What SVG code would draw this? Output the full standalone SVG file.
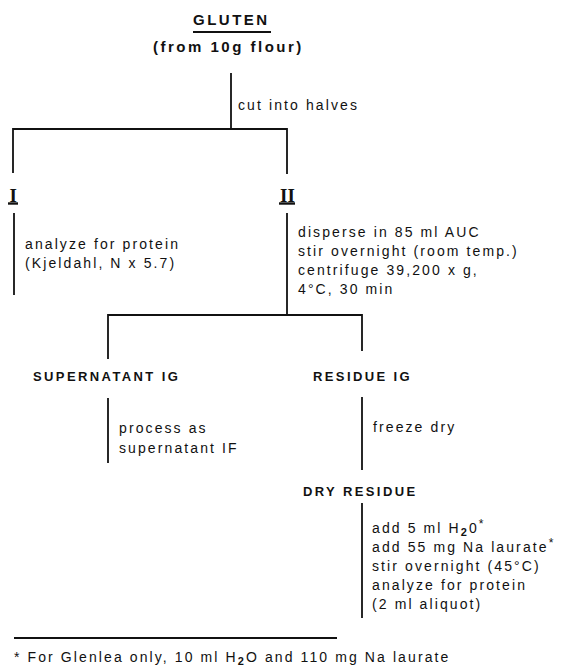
<svg xmlns="http://www.w3.org/2000/svg" width="570" height="668" viewBox="0 0 570 668">
<style>
.t{font-family:"Liberation Sans",Arial,sans-serif;font-size:14px;letter-spacing:2.1px;fill:#111}
.b{font-family:"Liberation Sans",Arial,sans-serif;font-size:13px;font-weight:bold;letter-spacing:2.4px;fill:#111}
.h{font-family:"Liberation Sans",Arial,sans-serif;font-size:15px;font-weight:bold;letter-spacing:2.5px;fill:#111}
.r{font-family:"Liberation Serif","Times New Roman",serif;font-size:19px;font-weight:bold;fill:#111}
.l{stroke:#111;stroke-width:1.8;fill:none}
</style>
<rect width="570" height="668" fill="#fff"/>
<g id="gluten">
<text class="h" x="193" y="25">GLUTEN</text>
<line class="l" x1="193" y1="32" x2="271" y2="32"/>
<text class="h" x="153" y="52">(from 10g flour)</text>
</g>
<g id="connectors">
<polyline class="l" points="231,73 231,129"/>
<polyline class="l" points="13,173 13,129 287,129 287,174"/>
<line class="l" x1="14" y1="213" x2="14" y2="295"/>
<polyline class="l" points="287,213 287,315"/>
<polyline class="l" points="108,359 108,315 362,315 362,351"/>
<line class="l" x1="108" y1="398" x2="108" y2="463"/>
<line class="l" x1="362" y1="397" x2="362" y2="470"/>
<line class="l" x1="362" y1="503" x2="362" y2="618"/>
<line class="l" x1="14" y1="638" x2="337" y2="638"/>
</g>
<g id="step-cut">
<text class="t" x="238" y="110">cut into halves</text>
</g>
<g id="node-I">
<text class="r" x="9.5" y="202">I</text>
<line x1="8" y1="203.5" x2="18" y2="203.5" stroke="#111" stroke-width="2.4"/>
</g>
<g id="node-II">
<text class="r" x="280" y="202">II</text>
<line x1="279" y1="203.5" x2="295" y2="203.5" stroke="#111" stroke-width="2.4"/>
</g>
<g id="step-I">
<text class="t" x="25" y="249">analyze for protein</text>
<text class="t" x="25" y="268">(Kjeldahl, N x 5.7)</text>
</g>
<g id="step-II">
<text class="t" x="298" y="237">disperse in 85 ml AUC</text>
<text class="t" x="298" y="256">stir overnight (room temp.)</text>
<text class="t" x="298" y="275">centrifuge 39,200 x g,</text>
<text class="t" x="298" y="294">4°C, 30 min</text>
</g>
<g id="supernatant-ig">
<text class="b" x="33" y="381">SUPERNATANT IG</text>
</g>
<g id="residue-ig">
<text class="b" x="313" y="381">RESIDUE IG</text>
</g>
<g id="step-supernatant">
<text class="t" x="119" y="433">process as</text>
<text class="t" x="119" y="453">supernatant IF</text>
</g>
<g id="step-residue">
<text class="t" x="373" y="432">freeze dry</text>
</g>
<g id="dry-residue">
<text class="b" x="303" y="496">DRY RESIDUE</text>
</g>
<g id="step-dry">
<text class="t" x="372" y="533">add 5 ml H<tspan font-weight="bold" font-size="11" dy="3">2</tspan><tspan dy="-3">0</tspan><tspan font-size="12" dy="-5">*</tspan></text>
<text class="t" x="372" y="552">add 55 mg Na laurate<tspan font-size="12" dy="-5">*</tspan></text>
<text class="t" x="372" y="571">stir overnight (45°C)</text>
<text class="t" x="372" y="590">analyze for protein</text>
<text class="t" x="372" y="609">(2 ml aliquot)</text>
</g>
<g id="footnote">
<text class="t" x="14" y="662">* For Glenlea only, 10 ml H<tspan font-size="11" font-weight="bold" dy="3">2</tspan><tspan dy="-3">O and 110 mg Na laurate</tspan></text>
</g>
</svg>
